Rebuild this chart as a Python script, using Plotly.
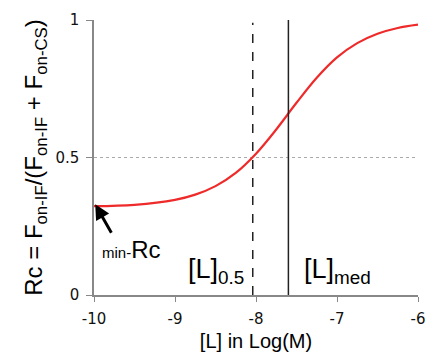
import plotly.graph_objects as go

log_L = [-10, -9.5, -9, -8.75, -8.5, -8.25, -8, -7.75, -7.5, -7.25, -7, -6.75, -6.5, -6.25, -6]
rc = [0.323, 0.328, 0.346, 0.365, 0.396, 0.444, 0.514, 0.602, 0.699, 0.790, 0.864, 0.916, 0.950, 0.971, 0.983]
L_half = -8.04
L_med = -7.6
x_ticks = [-10, -9, -8, -7, -6]
y_ticks = [0, 0.5, 1]

fig = go.Figure()
fig.add_trace(go.Scatter(x=log_L, y=rc, mode="lines", line=dict(color="#ee2a2a", width=2.2, shape="spline"),
                         showlegend=False, hoverinfo="skip"))

fig.add_shape(type="line", x0=L_half, x1=L_half, y0=0, y1=0.99, xref="x", yref="y",
              line=dict(color="#222", width=1.5, dash="dash"))
fig.add_shape(type="line", x0=L_med, x1=L_med, y0=0, y1=1, xref="x", yref="y",
              line=dict(color="#222", width=1.5))

fig.add_annotation(x=-8.5, y=0.02, text="[L]<sub>0.5</sub>", showarrow=False, xanchor="center", yanchor="bottom",
                   font=dict(family="Arial", size=27, color="black"))
fig.add_annotation(x=-6.99, y=0.02, text="[L]<sub>med</sub>", showarrow=False, xanchor="center", yanchor="bottom",
                   font=dict(family="Arial", size=27, color="black"))
fig.add_annotation(x=-9.54, y=0.11, text="<span style='font-size:15px'>min-</span>Rc", showarrow=False,
                   xanchor="center", yanchor="bottom", font=dict(family="Arial", size=24, color="black"))
fig.add_annotation(x=-9.985, y=0.33, ax=17, ay=30, text="", showarrow=True, arrowhead=2, arrowsize=1.0,
                   arrowwidth=3, arrowcolor="black")

fig.update_layout(
    width=427, height=352, margin=dict(l=94, r=9, t=20, b=57, autoexpand=False),
    plot_bgcolor="white", paper_bgcolor="white",
    xaxis=dict(range=[-10, -6], tickvals=x_ticks, ticktext=[str(v) for v in x_ticks], automargin=False,
               showgrid=False, zeroline=False, showline=True, linecolor="#888", linewidth=1.5,
               ticks="outside", ticklen=5, tickcolor="#888", ticklabelstandoff=4,
               tickfont=dict(family="DejaVu Sans", size=15, color="#111"),
               title=dict(text="[L] in Log(M)", font=dict(family="Arial", size=20, color="black"), standoff=14)),
    yaxis=dict(range=[0, 1], tickvals=y_ticks, ticktext=["0", "0.5", "1"], automargin=False,
               showgrid=True, gridcolor="#aaa", griddash="dot", gridwidth=1, zeroline=False,
               showline=True, linecolor="#888", linewidth=1.5,
               ticks="outside", ticklen=6, tickcolor="#888", ticklabelstandoff=4,
               tickfont=dict(family="DejaVu Sans", size=15, color="#111"),
               title=dict(text="Rc = F<sub>on-IF</sub>/(F<sub>on-IF</sub> + F<sub>on-CS</sub>)",
                          font=dict(family="Arial", size=24, color="black"), standoff=6)),
)
fig.write_html("out.html")
